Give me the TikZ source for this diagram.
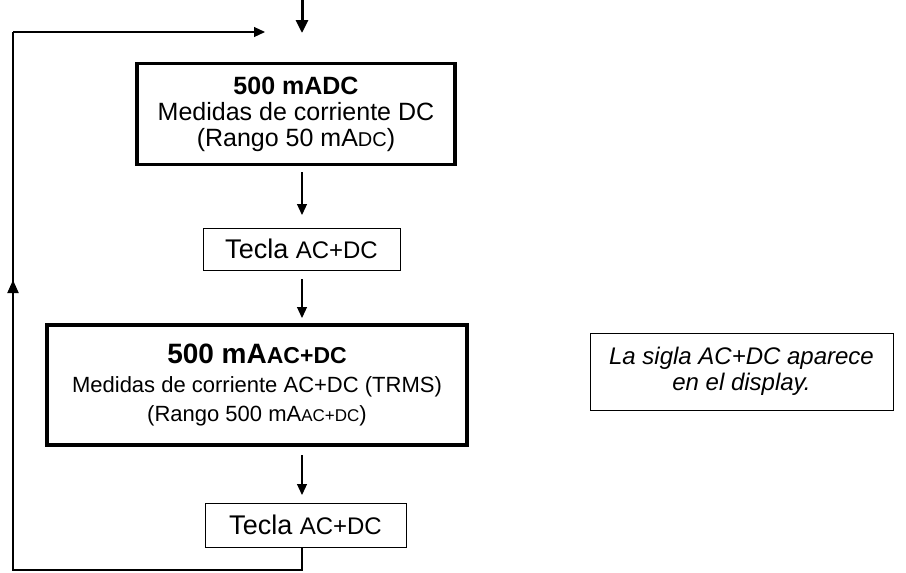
\documentclass[tikz,border=0pt]{standalone}
\usepackage{fontspec}
\setmainfont{Liberation Sans}
\usetikzlibrary{arrows.meta}
\begin{document}
\begin{tikzpicture}[x=1pt,y=-1pt,
  big/.style={draw,line width=3.5pt,minimum height=#1,align=center,inner sep=0pt},
  small/.style={draw,line width=1pt,inner sep=0pt,align=center},
  arr/.style={-{Triangle[length=11pt,width=10pt]},line width=1.2pt},
  txt/.style={font=\fontsize{25}{26}\selectfont}]
\useasboundingbox (0,0) rectangle (906,573);
\node[big=101pt,minimum width=318pt,txt] (b1) at (296,114) {\textbf{500 mADC}\\Medidas de corriente DC\\(Rango 50 mA{\fontsize{20}{24}\selectfont DC})};
\node[small,minimum width=197pt,minimum height=42pt,font=\fontsize{27}{28}\selectfont] (t1) at (301.5,249) {Tecla {\fontsize{24}{26}\selectfont AC+DC}};
\node[big=120pt,minimum width=420pt,font=\fontsize{22}{29}\selectfont] (b2) at (257,385) {{\fontsize{28}{30}\selectfont\textbf{500 mA{\fontsize{23}{26}\selectfont AC+DC}}}\\Medidas de corriente AC+DC (TRMS)\\(Rango 500 mA{\fontsize{17}{22}\selectfont AC+DC})};
\node[small,minimum width=201pt,minimum height=44pt,font=\fontsize{27}{28}\selectfont] (t2) at (305.5,525) {Tecla {\fontsize{24}{26}\selectfont AC+DC}};
\node[small,minimum width=303pt,minimum height=77pt,font=\fontsize{24}{26}\selectfont\itshape] (n) at (741.5,371.5) {La sigla AC+DC aparece\\en el display.};
\coordinate (top) at (302,0);
\coordinate (in) at (302,33);
\draw[-{Triangle[length=13pt,width=12pt]},line width=3pt] (top) -- (in);
\coordinate (a1) at (302,172);\coordinate (a2) at (302,215);
\draw[arr] (a1) -- (a2);
\coordinate (a3) at (302,279);\coordinate (a4) at (302,318);
\draw[arr] (a3) -- (a4);
\coordinate (a5) at (302,455);\coordinate (a6) at (302,495);
\draw[arr] (a5) -- (a6);
\coordinate (c1) at (302,570);\coordinate (c2) at (13,570);\coordinate (c3) at (13,280);\coordinate (c4) at (13,32);\coordinate (c5) at (265,32);
\draw[line width=1.2pt] (t2.south -| c1) -- (c1) -- (c2) -- (c3);
\draw[-{Triangle[length=13pt,width=11pt]},line width=2pt] (c2) -- (c3);
\draw[line width=1.2pt] (c3) -- (c4);
\draw[arr] (c4) -- (c5);
\end{tikzpicture}
\end{document}
